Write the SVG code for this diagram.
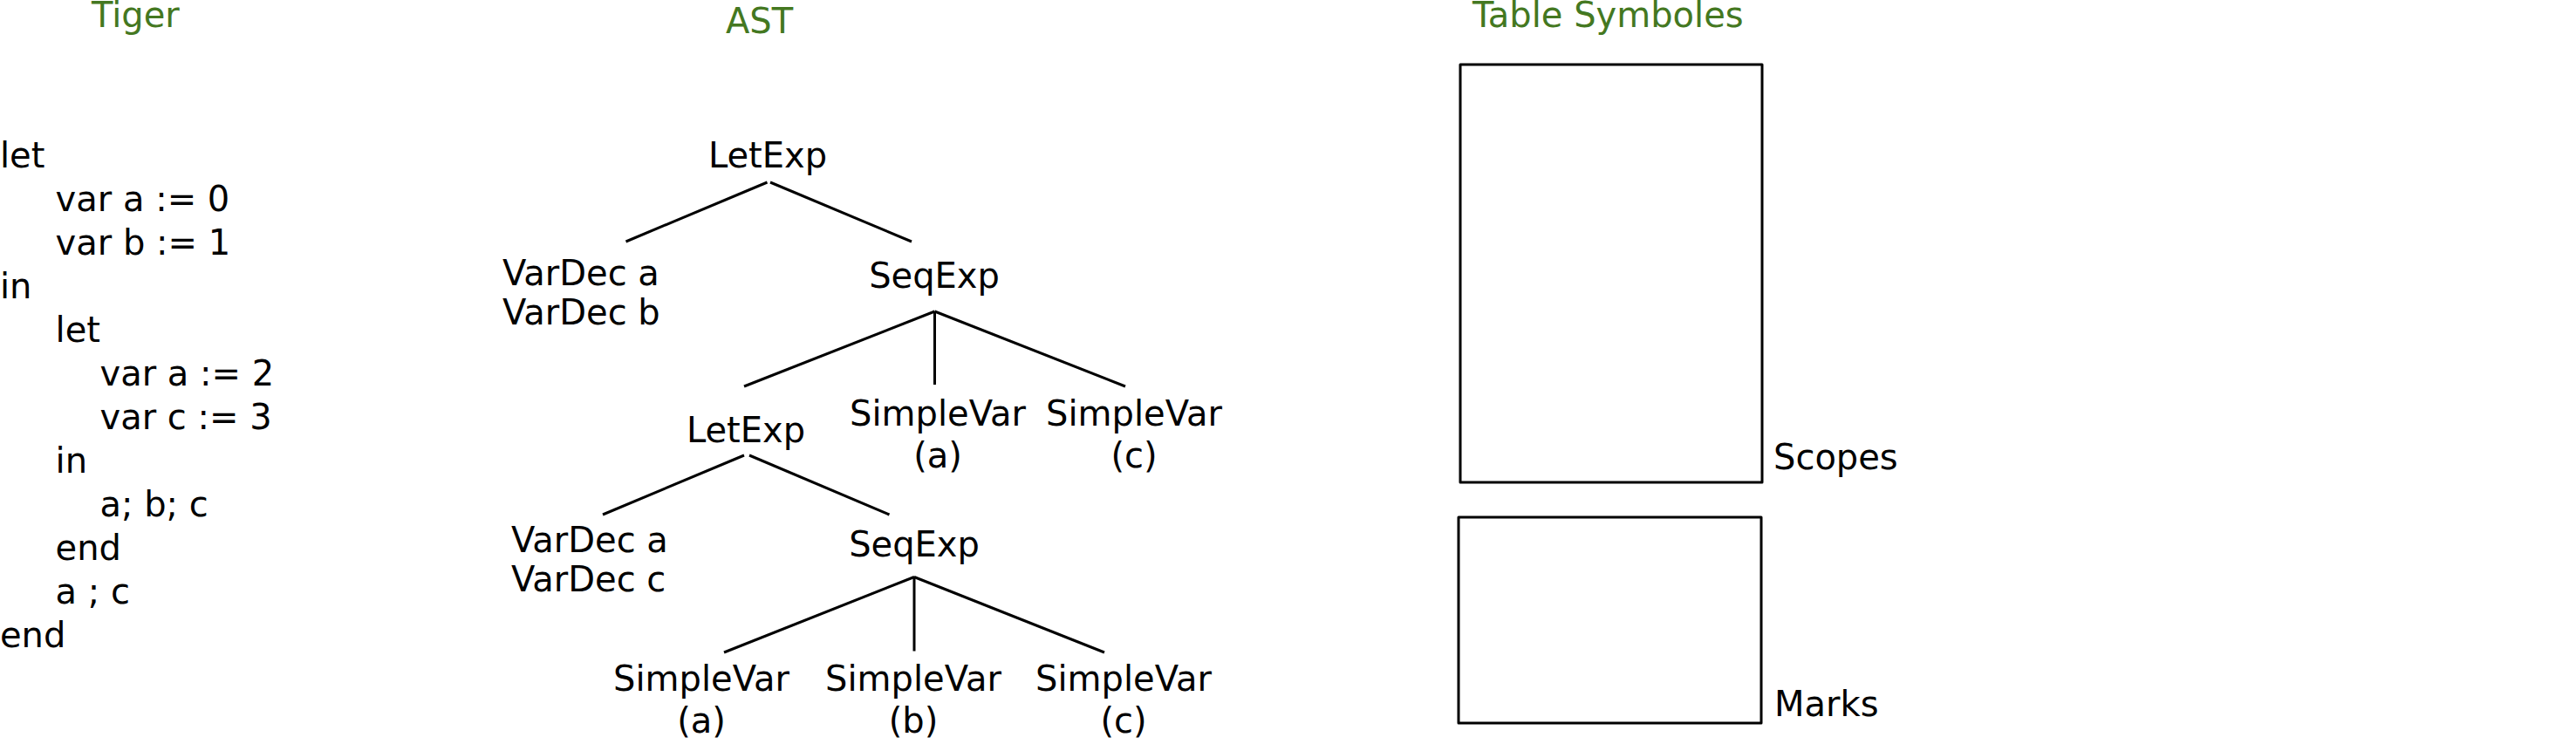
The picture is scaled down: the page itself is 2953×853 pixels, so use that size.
<svg xmlns="http://www.w3.org/2000/svg" width="2953" height="853" viewBox="0 0 2953 853">
<style>
text{font-family:"DejaVu Sans","Liberation Sans",sans-serif;font-size:40px;fill:#000}
.title{fill:#447821}
.mid{text-anchor:middle}
.edge{stroke:#000;stroke-width:3;fill:none;stroke-linecap:butt}
.box{stroke:#000;stroke-width:3;fill:none;stroke-linejoin:round}
</style>
<rect width="2953" height="853" fill="#fff"/>
<g id="titles">
<text class="title" x="105" y="31">Tiger</text>
<text class="title" x="832" y="38">AST</text>
<text class="title" x="1688" y="31">Table Symboles</text>
</g>
<g id="tiger-code">
<text x="0" y="192">let</text>
<text x="63.6" y="242">var a := 0</text>
<text x="63.6" y="292">var b := 1</text>
<text x="0" y="342">in</text>
<text x="63.6" y="392">let</text>
<text x="114.5" y="442">var a := 2</text>
<text x="114.5" y="492">var c := 3</text>
<text x="63.6" y="542">in</text>
<text x="114.5" y="592">a; b; c</text>
<text x="63.6" y="642">end</text>
<text x="63.6" y="692">a ; c</text>
<text x="0" y="742">end</text>
</g>
<g id="connectors">
<line class="edge" x1="879.5" y1="209" x2="717.5" y2="277"/>
<line class="edge" x1="883" y1="209" x2="1045" y2="277"/>
<line class="edge" x1="1071.5" y1="357" x2="853" y2="443"/>
<line class="edge" x1="1071.5" y1="357" x2="1071.5" y2="441"/>
<line class="edge" x1="1071.5" y1="357" x2="1290" y2="443"/>
<line class="edge" x1="853" y1="522" x2="691" y2="590"/>
<line class="edge" x1="859" y1="522" x2="1019.5" y2="590"/>
<line class="edge" x1="1048" y1="661.5" x2="830" y2="748"/>
<line class="edge" x1="1048" y1="661.5" x2="1048" y2="746.5"/>
<line class="edge" x1="1048" y1="661.5" x2="1266" y2="748"/>
</g>
<g id="letexp1"><text class="mid" x="880" y="192">LetExp</text></g>
<g id="vardec-ab"><text x="576" y="327">VarDec a</text><text x="576" y="372">VarDec b</text></g>
<g id="seqexp1"><text class="mid" x="1071" y="330">SeqExp</text></g>
<g id="letexp2"><text class="mid" x="855" y="507">LetExp</text></g>
<g id="simplevar-a1"><text class="mid" x="1075" y="488">SimpleVar</text><text class="mid" x="1075" y="536">(a)</text></g>
<g id="simplevar-c1"><text class="mid" x="1300" y="488">SimpleVar</text><text class="mid" x="1300" y="536">(c)</text></g>
<g id="vardec-ac"><text x="586" y="633">VarDec a</text><text x="586" y="678">VarDec c</text></g>
<g id="seqexp2"><text class="mid" x="1048" y="638">SeqExp</text></g>
<g id="simplevar-a2"><text class="mid" x="804" y="792">SimpleVar</text><text class="mid" x="804" y="840">(a)</text></g>
<g id="simplevar-b2"><text class="mid" x="1047" y="792">SimpleVar</text><text class="mid" x="1047" y="840">(b)</text></g>
<g id="simplevar-c2"><text class="mid" x="1288" y="792">SimpleVar</text><text class="mid" x="1288" y="840">(c)</text></g>
<g id="scopes"><rect class="box" x="1674" y="74" width="346" height="479"/><text x="2033" y="538">Scopes</text></g>
<g id="marks"><rect class="box" x="1672" y="593" width="347" height="236"/><text x="2034" y="821">Marks</text></g>
</svg>
